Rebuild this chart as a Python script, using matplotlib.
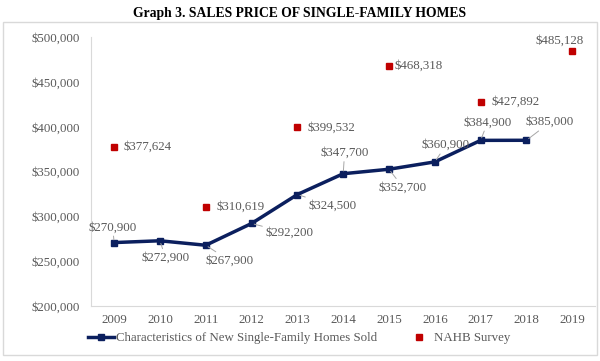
import matplotlib.pyplot as plt
from matplotlib.patches import Rectangle
from matplotlib.ticker import FuncFormatter

plt.rcParams['font.family'] = ['Liberation Serif', 'DejaVu Serif']

years = ['2009', '2010', '2011', '2012', '2013', '2014', '2015', '2016', '2017', '2018', '2019']
census_idx = [0, 1, 2, 3, 4, 5, 6, 7, 8, 9]
census = [270900, 272900, 267900, 292200, 324500, 347700, 352700, 360900, 384900, 385000]
nahb_idx = [0, 2, 4, 6, 8, 10]
nahb = [377624, 310619, 399532, 468318, 427892, 485128]

navy = '#0b1f5e'
red = '#c00000'
grey = '#595959'
fs = 9.3

fig = plt.figure(figsize=(6, 3.61), dpi=100)
fig.patches.append(Rectangle((3 / 600, 6 / 361), 594 / 600, 333 / 361, transform=fig.transFigure,
                             fill=False, edgecolor='#d9d9d9', linewidth=1))
fig.text(0.5, 1 - 13 / 361, 'Graph 3. SALES PRICE OF SINGLE-FAMILY HOMES', ha='center', va='center',
         fontsize=9.8, fontweight='bold')

ax = fig.add_axes([0.152, 0.152, 0.84, 0.745])
ax.plot(census_idx, census, color=navy, lw=2.5, marker='s', ms=5, mfc=navy, mec=navy,
        label='Characteristics of New Single-Family Homes Sold', zorder=3)
ax.plot(nahb_idx, nahb, ls='none', marker='s', ms=5, color=red, label='NAHB Survey', zorder=3)

ax.set_xlim(-0.5, 10.5)
ax.set_ylim(200000, 500000)
ax.set_yticks(range(200000, 500001, 50000))
ax.yaxis.set_major_formatter(FuncFormatter(lambda v, p: '${:,.0f}'.format(v)))
ax.set_xticks(range(len(years)))
ax.set_xticklabels(years)
ax.tick_params(length=0, labelsize=fs, colors=grey)
ax.tick_params(axis='x', pad=6)
ax.tick_params(axis='y', pad=8)
for s in ['top', 'right']:
    ax.spines[s].set_visible(False)
for s in ['left', 'bottom']:
    ax.spines[s].set_color('#d9d9d9')

lbl = dict(fontsize=fs, color=grey, va='center')
lead = dict(arrowstyle='-', color='#a6a6a6', lw=0.7, shrinkA=0, shrinkB=2)

# census labels: (x offset, y offset) in points
census_off = [(-1, 11), (4, -12), (17, -11), (27, -7), (25, -8),
              (1, 15), (10, -13), (8, 12), (5, 13), (17, 13)]
for i, v, (dx, dy) in zip(census_idx, census, census_off):
    ax.annotate('${:,}'.format(v), (i, v), xytext=(dx, dy), textcoords='offset points',
                ha='center', arrowprops=lead, **lbl)

nahb_off = [(7, 0, 'left'), (8, 0, 'left'), (7, 0, 'left'), (4, 0, 'left'), (8, 0, 'left'),
            (-9, 7, 'center')]
for i, v, (dx, dy, ha) in zip(nahb_idx, nahb, nahb_off):
    ax.annotate('${:,}'.format(v), (i, v), xytext=(dx, dy), textcoords='offset points',
                ha=ha, **lbl)

leg = ax.legend(loc='center', bbox_to_anchor=(0.413, -0.119), ncol=2, frameon=False,
                fontsize=fs, handlelength=2.0, columnspacing=2.3, handletextpad=0.15)
for t in leg.get_texts():
    t.set_color(grey)

fig.savefig('out.png', dpi=100)
